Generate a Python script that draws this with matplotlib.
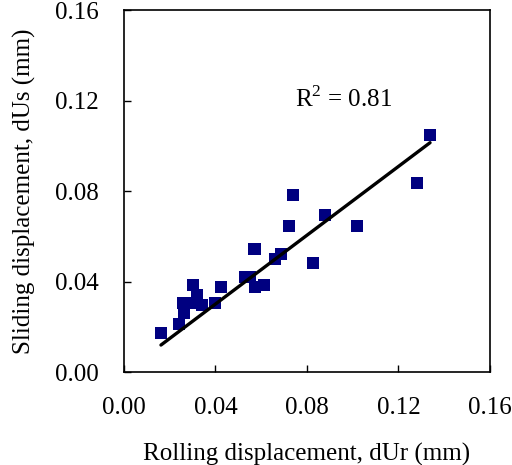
import numpy as np
import matplotlib
matplotlib.use("Agg")
import matplotlib.pyplot as plt

plt.rcParams['font.family'] = ['Liberation Serif', 'DejaVu Serif']
plt.rcParams['mathtext.fontset'] = 'custom'
plt.rcParams['mathtext.rm'] = 'Liberation Serif'

# Datos (mm)
dUr = [0.0162, 0.0242, 0.0257, 0.0262, 0.0264, 0.0300, 0.0318, 0.0340, 0.0310,
       0.0398, 0.0424, 0.0529, 0.0551, 0.0568, 0.0574, 0.0573, 0.0613, 0.0662,
       0.0686, 0.0723, 0.0740, 0.0879, 0.0827, 0.1020, 0.1279, 0.1338]
dUs = [0.0172, 0.0212, 0.0304, 0.0278, 0.0262, 0.0385, 0.0340, 0.0296, 0.0304,
       0.0304, 0.0377, 0.0421, 0.0421, 0.0542, 0.0542, 0.0374, 0.0385, 0.0498,
       0.0524, 0.0645, 0.0782, 0.0694, 0.0480, 0.0645, 0.0834, 0.1048]

# Recta de tendencia
pendiente = 0.761
ordenada = -0.0004

ticks = [0.00, 0.04, 0.08, 0.12, 0.16]

x = np.array(dUr)
xl = np.array([x.min(), x.max()])

fig = plt.figure(figsize=(5.12, 4.65), dpi=100)
ax = fig.add_axes([0.242, 0.2, 0.715, 0.778])
ax.scatter(dUr, dUs, marker='s', s=85, color='#000080', zorder=3, linewidths=0)
ax.plot(xl, pendiente * xl + ordenada, color='black', lw=2.4, zorder=4,
        solid_capstyle='round')

ax.text(0.0748, 0.1205, r'R$^2$ = 0.81', fontsize=18, ha='left', va='center')

ax.set_xlim(0, 0.16)
ax.set_ylim(0, 0.16)
ax.set_xticks(ticks)
ax.set_yticks(ticks)
ax.set_xticklabels(['%.2f' % t for t in ticks])
ax.set_yticklabels(['%.2f' % t for t in ticks])
ax.tick_params(direction='in', length=5, width=1, labelsize=18, pad=18)
for s in ax.spines.values():
    s.set_linewidth(1.2)

ax.set_xlabel('Rolling displacement, dUr (mm)', fontsize=18, labelpad=17)
ax.set_ylabel('Sliding displacement, dUs (mm)', fontsize=18, labelpad=14)

fig.savefig('out.png', dpi=100)
